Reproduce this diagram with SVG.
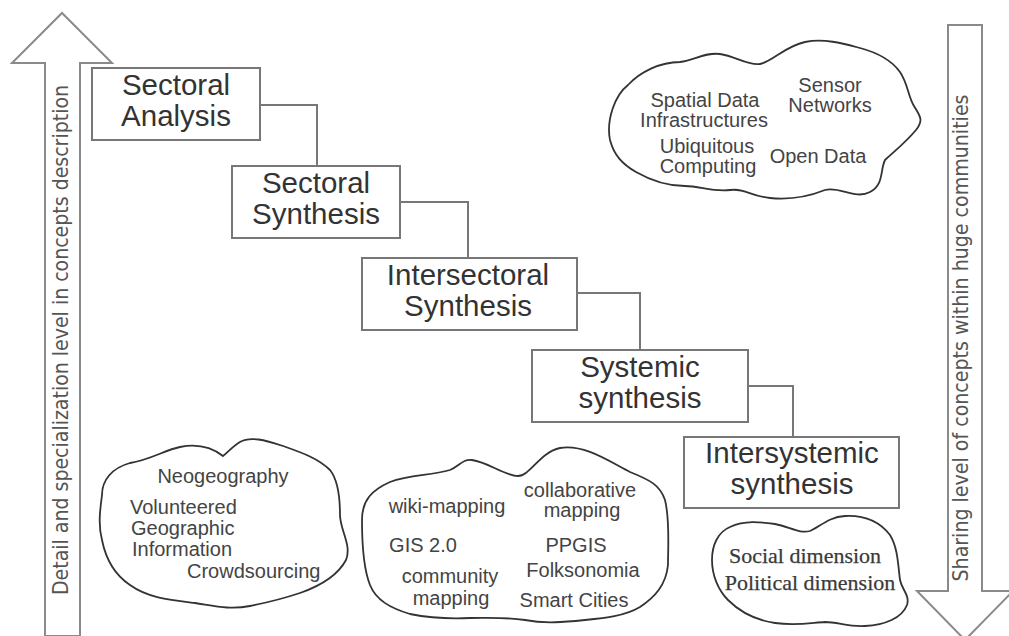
<svg xmlns="http://www.w3.org/2000/svg" width="1009" height="636" viewBox="0 0 1009 636">
<style>
.bg{fill:#ffffff}
.arrow{fill:#ffffff;stroke:#8a8a8a;stroke-width:2}
.atext{font-family:"Liberation Sans Narrow","DejaVu Sans Condensed","Liberation Sans",sans-serif;font-size:21px;fill:#555555;text-anchor:middle}
.box{fill:#ffffff;stroke:#777777;stroke-width:2}
.btext{font-family:"Liberation Sans",Arial,sans-serif;font-size:29.5px;fill:#333333;text-anchor:middle}
.conn{fill:none;stroke:#777777;stroke-width:2}
.cloud{fill:#ffffff;stroke:#333333;stroke-width:1.8}
.ctext{font-family:"Liberation Sans",Arial,sans-serif;font-size:20px;fill:#444444}
.stext{font-family:"Liberation Serif","Times New Roman",serif;font-size:22px;fill:#3a3a3a;stroke:#3a3a3a;stroke-width:0.25;text-anchor:middle}
.mid{text-anchor:middle}
</style>
<rect class="bg" x="0" y="0" width="1009" height="636"/>

<g id="arrow-left">
<polygon class="arrow" points="45,636 45,63 12,63 62,13 112,63 80,63 80,636"/>
<text class="atext" transform="translate(68,340) rotate(-90)" textLength="510" lengthAdjust="spacingAndGlyphs">Detail and specialization level in concepts description</text>
</g>

<g id="arrow-right">
<polygon class="arrow" points="948,25 982,25 982,591 1013,591 965,640 917,591 948,591"/>
<text class="atext" transform="translate(968,338) rotate(-90)" textLength="487" lengthAdjust="spacingAndGlyphs">Sharing level of concepts within huge communities</text>
</g>

<g id="connectors">
<path class="conn" d="M260,105 H317 V166"/>
<path class="conn" d="M400,202 H468 V258"/>
<path class="conn" d="M577,293 H640 V350"/>
<path class="conn" d="M748,386 H793 V437"/>
</g>

<g id="sectoral-analysis">
<rect class="box" x="92" y="68" width="168" height="72"/>
<text class="btext" x="176" y="95">Sectoral</text>
<text class="btext" x="176" y="126">Analysis</text>
</g>

<g id="sectoral-synthesis">
<rect class="box" x="232" y="166" width="168" height="72"/>
<text class="btext" x="316" y="193">Sectoral</text>
<text class="btext" x="316" y="224">Synthesis</text>
</g>

<g id="intersectoral-synthesis">
<rect class="box" x="362" y="258" width="215" height="72"/>
<text class="btext" x="468" y="285">Intersectoral</text>
<text class="btext" x="468" y="316">Synthesis</text>
</g>

<g id="systemic-synthesis">
<rect class="box" x="532" y="350" width="216" height="72"/>
<text class="btext" x="640" y="377">Systemic</text>
<text class="btext" x="640" y="408">synthesis</text>
</g>

<g id="intersystemic-synthesis">
<rect class="box" x="684" y="437" width="215" height="71"/>
<text class="btext" x="792" y="463">Intersystemic</text>
<text class="btext" x="792" y="494">synthesis</text>
</g>

<g id="cloud-infrastructure">
<path class="cloud" d="M610,140 C606,120 615,95 628,85 C640,72 660,62 680,62 C695,60 705,52 720,54 C735,56 748,66 760,64 C772,62 785,46 805,42 C825,38 845,44 860,48 C875,52 890,58 900,72 C908,84 908,96 914,106 C920,116 924,120 916,130 C906,142 896,150 885,160 C880,170 884,185 870,192 C855,200 840,186 825,190 C810,196 790,200 770,198 C750,196 745,188 730,190 C712,192 700,186 685,186 C665,186 650,180 636,172 C622,164 614,155 610,140 Z"/>
<text class="ctext mid" x="705" y="107">Spatial Data</text>
<text class="ctext mid" x="704" y="127">Infrastructures</text>
<text class="ctext mid" x="707" y="153">Ubiquitous</text>
<text class="ctext mid" x="708" y="173">Computing</text>
<text class="ctext mid" x="830" y="92">Sensor</text>
<text class="ctext mid" x="830" y="112">Networks</text>
<text class="ctext mid" x="818" y="163">Open Data</text>
</g>

<g id="cloud-neogeography">
<path class="cloud" d="M223,456 C210,446 195,444 180,447 C165,450 150,460 130,463 C112,468 102,480 102,495 C100,510 98,525 102,540 C106,560 115,575 130,585 C148,598 170,600 195,603 C215,606 230,610 250,606 C270,602 285,598 300,593 C320,586 338,575 346,560 C352,545 340,530 340,515 C340,495 338,480 330,470 C318,458 300,452 283,446 C265,440 250,436 240,442 C232,447 228,452 223,456 Z"/>
<text class="ctext mid" x="223" y="483">Neogeography</text>
<text class="ctext" x="130" y="514">Volunteered</text>
<text class="ctext" x="131" y="535">Geographic</text>
<text class="ctext" x="132" y="556">Information</text>
<text class="ctext" x="187" y="578">Crowdsourcing</text>
</g>

<g id="cloud-participation">
<path class="cloud" d="M362,520 C362,500 372,490 390,482 C410,474 430,476 450,470 C460,466 462,459 472,460 C488,462 505,476 518,476 C530,476 540,452 560,448 C585,444 610,462 630,472 C650,480 660,485 665,500 C670,520 668,545 668,565 C666,585 655,597 640,607 C625,616 605,618 585,620 C565,622 545,624 525,620 C505,617 490,618 470,618 C450,619 430,618 410,614 C390,608 376,600 370,585 C364,570 362,545 362,520 Z"/>
<text class="ctext mid" x="447" y="513">wiki-mapping</text>
<text class="ctext mid" x="580" y="497">collaborative</text>
<text class="ctext mid" x="582" y="517">mapping</text>
<text class="ctext mid" x="423" y="552">GIS 2.0</text>
<text class="ctext mid" x="576" y="552">PPGIS</text>
<text class="ctext mid" x="583" y="577">Folksonomia</text>
<text class="ctext mid" x="450" y="583">community</text>
<text class="ctext mid" x="451" y="605">mapping</text>
<text class="ctext mid" x="574" y="607">Smart Cities</text>
</g>

<g id="cloud-dimensions">
<path class="cloud" d="M712,560 C712,545 718,532 730,527 C745,520 760,522 775,524 C790,527 800,534 810,531 C820,527 828,517 845,516 C865,515 880,522 890,535 C898,548 898,565 900,580 C902,590 910,595 907,605 C902,618 885,625 865,626 C848,627 838,622 825,622 C810,623 795,626 775,623 C755,620 740,612 728,600 C718,590 712,575 712,560 Z"/>
<text class="stext" x="805" y="563">Social dimension</text>
<text class="stext" x="810" y="590">Political dimension</text>
</g>
</svg>
